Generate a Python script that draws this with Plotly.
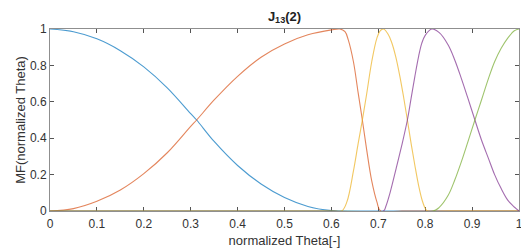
import plotly.graph_objects as go

# ---- data ----
blue_x = [0, 0.05, 0.1, 0.15, 0.2, 0.25, 0.3, 0.3127, 0.35, 0.4, 0.45, 0.5, 0.55, 0.6, 0.62, 0.7, 0.8, 0.9, 1.0]
blue_y = [1, 0.985, 0.946, 0.881, 0.792, 0.677, 0.535, 0.5, 0.382, 0.25, 0.148, 0.074, 0.025, 0.002, 0, 0, 0, 0, 0]

orange_x = [0, 0.05, 0.1, 0.15, 0.2, 0.25, 0.3, 0.3127, 0.35, 0.4, 0.45, 0.5, 0.55, 0.6, 0.618,
            0.629, 0.636, 0.647, 0.657, 0.666, 0.675, 0.686, 0.697, 0.705, 0.75, 0.85, 1.0]
orange_y = [0, 0.013, 0.053, 0.115, 0.205, 0.32, 0.465, 0.5, 0.61, 0.74, 0.845, 0.918, 0.968, 0.995, 1,
            0.985, 0.94, 0.82, 0.65, 0.5, 0.34, 0.165, 0.05, 0, 0, 0, 0]

yellow_x = [0, 0.3, 0.6, 0.622, 0.633, 0.647, 0.657, 0.666, 0.675, 0.686, 0.697, 0.704, 0.711,
            0.72, 0.728, 0.737, 0.746, 0.754, 0.762, 0.77, 0.778, 0.786, 0.794, 0.8, 0.805,
            0.85, 0.9, 1.0]
yellow_y = [0, 0, 0, 0, 0.05, 0.22, 0.37, 0.5, 0.64, 0.82, 0.95, 0.99, 1,
            0.975, 0.93, 0.85, 0.74, 0.625, 0.5, 0.37, 0.25, 0.14, 0.055, 0.015, 0,
            0, 0, 0]

purple_x = [0, 0.3, 0.6, 0.711, 0.716, 0.725, 0.738, 0.75, 0.762, 0.77, 0.778, 0.786, 0.7925, 0.8, 0.814,
            0.83, 0.849, 0.863, 0.877, 0.891, 0.906, 0.92, 0.935, 0.948, 0.962, 0.976, 0.99, 1.0]
purple_y = [0, 0, 0, 0, 0.025, 0.1, 0.233, 0.36, 0.5, 0.62, 0.74, 0.85, 0.92, 0.965, 1,
            0.98, 0.912, 0.83, 0.729, 0.62, 0.5, 0.39, 0.288, 0.2, 0.123, 0.06, 0.022, 0]

green_x = [0, 0.3, 0.6, 0.817, 0.83, 0.849, 0.863, 0.877, 0.891, 0.906, 0.92, 0.935, 0.948, 0.962, 0.976, 0.99, 1.0]
green_y = [0, 0, 0, 0, 0.02, 0.086, 0.17, 0.27, 0.38, 0.5, 0.61, 0.729, 0.82, 0.894, 0.95, 0.99, 1]

x_ticks = [0, 0.1, 0.2, 0.3, 0.4, 0.5, 0.6, 0.7, 0.8, 0.9, 1]
x_tick_labels = ["0", "0.1", "0.2", "0.3", "0.4", "0.5", "0.6", "0.7", "0.8", "0.9", "1"]
y_ticks = [0, 0.2, 0.4, 0.6, 0.8, 1]
y_tick_labels = ["0", "0.2", "0.4", "0.6", "0.8", "1"]

series = [
    (blue_x, blue_y, "#0072BD"),
    (orange_x, orange_y, "#D95319"),
    (yellow_x, yellow_y, "#EDB120"),
    (purple_x, purple_y, "#7E2F8E"),
    (green_x, green_y, "#77AC30"),
]

FONT = "Liberation Sans, Arial, sans-serif"

fig = go.Figure()
for xs, ys, c in series:
    fig.add_trace(go.Scatter(x=xs, y=ys, mode="lines",
                             line=dict(color=c, width=1.1, shape="spline", smoothing=1.0),
                             opacity=0.7, showlegend=False, hoverinfo="skip"))

axis_common = dict(
    showgrid=False, zeroline=False, showline=True, linecolor="#8f8f8f", linewidth=1,
    mirror="ticks", ticks="inside", ticklen=4, tickwidth=1, tickcolor="#555555",
    tickfont=dict(family=FONT, size=12, color="#333333"), layer="below traces",
    ticklabeloverflow="allow",
)

fig.update_xaxes(range=[0, 1], tickvals=x_ticks, ticktext=x_tick_labels,
                 title=dict(text="normalized Theta[-]", font=dict(family=FONT, size=13, color="#333333"),
                            standoff=5),
                 ticklabelstandoff=2, **axis_common)
fig.update_yaxes(range=[0, 1], tickvals=y_ticks, ticktext=y_tick_labels,
                 title=dict(text="MF(normalized Theta)", font=dict(family=FONT, size=13, color="#333333"),
                            standoff=1),
                 ticklabelstandoff=0, **axis_common)

fig.update_layout(
    width=521, height=250,
    margin=dict(l=50, r=2, t=29, b=39, autoexpand=False),
    paper_bgcolor="white", plot_bgcolor="white",
    title=dict(text="<b>J<sub>13</sub>(2)</b>", x=0.5, xref="paper", xanchor="center",
               y=1 - 16 / 250, yref="container", yanchor="middle",
               font=dict(family=FONT, size=13, color="#222222")),
)

fig.write_html("out.html", config={"displayModeBar": False},
               post_script="document.body.style.margin='0';document.body.style.padding='0';")
